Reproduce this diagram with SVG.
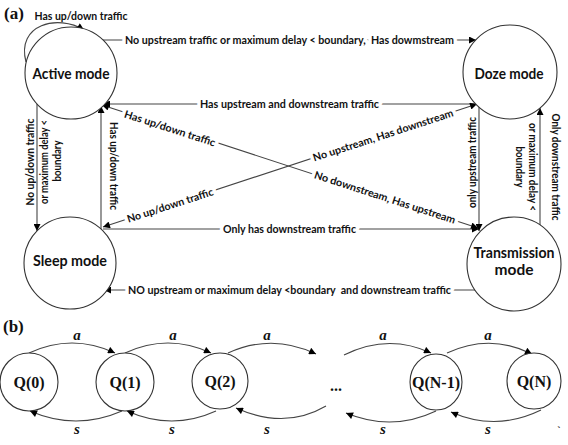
<svg xmlns="http://www.w3.org/2000/svg" width="568" height="445" viewBox="0 0 568 445">
<style>
.bg{fill:#fff}
.st{fill:#fff;stroke:#333;stroke-width:1.1}
.ln{fill:none;stroke:#444;stroke-width:1.1}
.lbl{font-family:Lato,"Open Sans","Liberation Sans",sans-serif;font-weight:700;font-size:10.5px;fill:#111;text-anchor:middle;dominant-baseline:central}
.halo{paint-order:stroke;stroke:#fff;stroke-width:7;stroke-linejoin:round}
.mode{font-family:Lato,"Open Sans","Liberation Sans",sans-serif;font-weight:700;font-size:15.5px;fill:#111;text-anchor:middle;dominant-baseline:central}
.tag{font-family:"Liberation Serif","Times New Roman",serif;font-weight:700;font-size:17px;fill:#111}
.q{font-family:"Liberation Serif","Times New Roman",serif;font-weight:700;font-size:16px;fill:#111;text-anchor:middle;dominant-baseline:central}
.it{font-family:"Liberation Serif","Times New Roman",serif;font-weight:700;font-style:italic;font-size:15px;fill:#111;text-anchor:middle;dominant-baseline:central}
</style>
<defs>
<marker id="ah" viewBox="0 0 10 10" refX="10" refY="5" markerWidth="9" markerHeight="7" orient="auto-start-reverse" markerUnits="userSpaceOnUse"><path d="M0,0 L10,5 L0,10 z" fill="#000"/></marker>
</defs>
<rect class="bg" x="0" y="0" width="568" height="445"/>

<text class="tag" x="4" y="19">(a)</text>
<text class="tag" x="3" y="332">(b)</text>

<g id="connectors">
  <path class="ln" d="M26,62 C16,24 58,14 84,30" marker-end="url(#ah)"/>
  <line class="ln" x1="103" y1="40" x2="476" y2="40" marker-end="url(#ah)"/>
  <line class="ln" x1="476" y1="104" x2="103" y2="104" marker-end="url(#ah)"/>
  <line class="ln" x1="102" y1="105" x2="478" y2="228" marker-start="url(#ah)" marker-end="url(#ah)"/>
  <line class="ln" x1="103" y1="227" x2="477" y2="104" marker-start="url(#ah)" marker-end="url(#ah)"/>
  <line class="ln" x1="103" y1="229" x2="479" y2="229" marker-end="url(#ah)"/>
  <line class="ln" x1="476" y1="290" x2="104" y2="290" marker-end="url(#ah)"/>
  <line class="ln" x1="37" y1="104" x2="37" y2="231" marker-end="url(#ah)"/>
  <line class="ln" x1="101" y1="229" x2="101" y2="106" marker-end="url(#ah)"/>
  <line class="ln" x1="479" y1="105" x2="479" y2="231" marker-end="url(#ah)"/>
  <line class="ln" x1="540" y1="225" x2="540" y2="108" marker-end="url(#ah)"/>

  <text class="lbl" x="81" y="16" textLength="93" lengthAdjust="spacingAndGlyphs">Has up/down traffic</text>
  <text class="lbl halo" x="289.5" y="40" textLength="329" lengthAdjust="spacingAndGlyphs" xml:space="preserve">No upstream traffic or maximum delay &lt; boundary,  Has dowmstream</text>
  <text class="lbl halo" x="289.5" y="104" textLength="179" lengthAdjust="spacingAndGlyphs">Has upstream and downstream traffic</text>
  <text class="lbl halo" x="289.5" y="229" textLength="133" lengthAdjust="spacingAndGlyphs">Only has downstream traffic</text>
  <text class="lbl halo" x="289.5" y="290" textLength="323" lengthAdjust="spacingAndGlyphs" xml:space="preserve">NO upstream or maximum delay &lt;boundary  and downstream traffic</text>
  <text class="lbl halo" transform="translate(170,128) rotate(18)" textLength="95" lengthAdjust="spacingAndGlyphs">Has up/down traffic</text>
  <text class="lbl halo" transform="translate(385,197) rotate(18)" textLength="148" lengthAdjust="spacingAndGlyphs">No downstream, Has upstream</text>
  <text class="lbl halo" transform="translate(170,205) rotate(-18)" textLength="90" lengthAdjust="spacingAndGlyphs">No up/down traffic</text>
  <text class="lbl halo" transform="translate(383,135) rotate(-18)" textLength="147" lengthAdjust="spacingAndGlyphs">No upstream, Has downstream</text>
  <text class="lbl" transform="translate(29.5,162) rotate(-90)" textLength="87" lengthAdjust="spacingAndGlyphs">No up/down traffic</text>
  <text class="lbl" transform="translate(43.5,162) rotate(-90)" textLength="84" lengthAdjust="spacingAndGlyphs">or maximum delay &lt;</text>
  <text class="lbl" transform="translate(57,161) rotate(-90)" textLength="41" lengthAdjust="spacingAndGlyphs">boundary</text>
  <text class="lbl" transform="translate(114,166) rotate(90)" textLength="88" lengthAdjust="spacingAndGlyphs">Has up/down traffic</text>
  <text class="lbl" transform="translate(471.5,162.5) rotate(-90)" textLength="91" lengthAdjust="spacingAndGlyphs">only upstream traffic</text>
  <text class="lbl" transform="translate(556,167) rotate(90)" textLength="107" lengthAdjust="spacingAndGlyphs">Only downstream traffic</text>
  <text class="lbl" transform="translate(533,167) rotate(90)" textLength="88" lengthAdjust="spacingAndGlyphs">or maximum delay &lt;</text>
  <text class="lbl" transform="translate(520,167) rotate(90)" textLength="41" lengthAdjust="spacingAndGlyphs">boundary</text>
</g>

<g id="active">
  <circle class="st" cx="71" cy="73" r="46"/>
  <text class="mode" x="71" y="73" textLength="77" lengthAdjust="spacingAndGlyphs">Active mode</text>
</g>
<g id="doze">
  <circle class="st" cx="510" cy="72" r="47"/>
  <text class="mode" x="509" y="73" textLength="69" lengthAdjust="spacingAndGlyphs">Doze mode</text>
</g>
<g id="sleep">
  <circle class="st" cx="70" cy="263" r="46"/>
  <text class="mode" x="70" y="260" textLength="74" lengthAdjust="spacingAndGlyphs">Sleep mode</text>
</g>
<g id="transmission">
  <circle class="st" cx="514" cy="264" r="47"/>
  <text class="mode" x="514" y="252" textLength="81" lengthAdjust="spacingAndGlyphs">Transmission</text>
  <text class="mode" x="514" y="269">mode</text>
</g>

<g id="chain-connectors">
  <path class="ln" d="M29,353 Q72,333 115,353" marker-end="url(#ah)"/>
  <path class="ln" d="M125,353 Q168,333 211,353" marker-end="url(#ah)"/>
  <path class="ln" d="M228,353 Q272,333 316,354" marker-end="url(#ah)"/>
  <path class="ln" d="M344,355 Q388,333 431,353" marker-end="url(#ah)"/>
  <path class="ln" d="M447,353 Q490,333 532,354" marker-end="url(#ah)"/>
  <path class="ln" d="M122,411 Q76,431 30,411" marker-end="url(#ah)"/>
  <path class="ln" d="M216,411 Q172,431 127,411" marker-end="url(#ah)"/>
  <path class="ln" d="M326,406 Q285,430 236,408" marker-end="url(#ah)"/>
  <path class="ln" d="M436,411 Q392,432 346,413" marker-end="url(#ah)"/>
  <path class="ln" d="M541,410 Q496,432 451,412" marker-end="url(#ah)"/>
  <text class="it" x="77" y="335">a</text>
  <text class="it" x="173" y="335">a</text>
  <text class="it" x="267" y="335">a</text>
  <text class="it" x="383" y="335">a</text>
  <text class="it" x="488" y="335">a</text>
  <text class="it" x="77" y="429">s</text>
  <text class="it" x="172" y="429">s</text>
  <text class="it" x="267" y="429">s</text>
  <text class="it" x="383" y="429">s</text>
  <text class="it" x="488" y="429">s</text>
</g>

<g id="q0"><circle class="st" cx="29" cy="382" r="29"/><text class="q" x="29" y="382">Q(0)</text></g>
<g id="q1"><circle class="st" cx="125" cy="382" r="29"/><text class="q" x="125" y="382">Q(1)</text></g>
<g id="q2"><circle class="st" cx="220" cy="381" r="28"/><text class="q" x="220" y="381">Q(2)</text></g>
<g id="dots"><text class="q" x="336" y="385">...</text></g>
<g id="qn1"><ellipse class="st" cx="436" cy="382" rx="26" ry="28"/><text class="q" x="436" y="382">Q(N-1)</text></g>
<g id="qn"><ellipse class="st" cx="534" cy="381" rx="27" ry="28"/><text class="q" x="534" y="381">Q(N)</text></g>
<text class="q" x="559" y="430" style="font-size:10px">`</text>
</svg>
